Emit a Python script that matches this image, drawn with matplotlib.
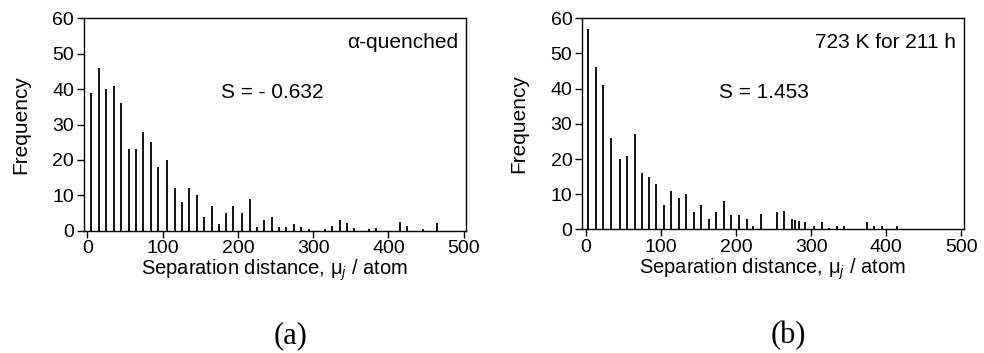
import matplotlib
matplotlib.use("Agg")
import matplotlib.pyplot as plt

plt.rcParams["font.family"] = ["Liberation Sans", "DejaVu Sans"]
plt.rcParams["mathtext.fontset"] = "custom"
plt.rcParams["mathtext.rm"] = "Liberation Sans"
plt.rcParams["mathtext.it"] = "Liberation Sans:italic"

# (a) alpha-quenched
a_dist = [-4, 5, 15, 25, 35, 45, 55, 65, 74, 84, 94, 106, 116, 126, 135, 145, 155,
          165, 175, 184, 194, 206, 216, 225, 235, 245, 254, 264, 274, 284, 294,
          315, 325, 335, 345, 354, 374, 384, 415, 425, 446, 465]
a_freq = [44, 39, 46, 40, 41, 36, 23, 23, 28, 25, 18, 20, 12, 8, 12, 10, 4,
          7, 2, 5, 7, 5, 9, 1, 3, 4, 1, 1, 2, 1, 0.6,
          0.6, 1.3, 3, 2.3, 0.8, 0.6, 0.8, 2.4, 1.2, 0.4, 2.3]

# (b) 723 K for 211 h
b_dist = [3, 13, 23, 33, 45, 55, 65, 75, 84, 94, 104, 114, 124, 134, 144, 153,
          164, 174, 184, 194, 204, 214, 223, 233, 254, 264, 274, 279, 284, 292,
          304, 314, 324, 334, 344, 375, 384, 394, 414]
b_freq = [57, 46, 41, 26, 20, 21, 27, 16, 15, 13, 7, 11, 9, 10, 5, 7,
          3, 5, 8, 4, 4, 3, 1, 4.5, 5, 5.3, 3, 2.8, 2.5, 2,
          1, 2, 0.5, 1, 1, 2, 1, 1, 1]

panels = [
    (a_dist, a_freq, "\u03b1-quenched", "S = - 0.632", "(a)"),
    (b_dist, b_freq, "723 K for 211 h", "S = 1.453", "(b)"),
]
ax_rects = [[0.085, 0.3465, 0.3886, 0.6016], [0.5915, 0.35, 0.3877, 0.5985]]

fig = plt.figure(figsize=(9.84, 3.53), dpi=100)

for rect, (dist, freq, cond, s_txt, tag) in zip(ax_rects, panels):
    ax = fig.add_axes(rect)
    ax.vlines(dist, 0, freq, colors="black", lw=1.3)
    ax.set_xlim(-5, 503)
    ax.set_ylim(0, 60)
    ax.set_xticks([0, 100, 200, 300, 400, 500])
    ax.set_yticks([0, 10, 20, 30, 40, 50, 60])
    ax.tick_params(direction="out", length=5, width=1, labelsize=14, pad=2)
    for sp in ax.spines.values():
        sp.set_linewidth(1.0)
    ax.set_ylabel("Frequency", fontsize=15)
    ax.yaxis.set_label_coords(-0.14, 0.5)
    ax.set_xlabel("Separation distance, \u03bc$_{\\mathit{j}}$ / atom", fontsize=14.5, labelpad=0)
    ax.text(0.98, 0.885, cond, transform=ax.transAxes, ha="right", va="center", fontsize=15)
    ax.text(0.36, 0.65, s_txt, transform=ax.transAxes, ha="left", va="center", fontsize=15)
    x0, w = rect[0], rect[2]
    fig.text(x0 + w * 0.54, 0.05, tag, ha="center", va="center",
             fontsize=22, family=["Liberation Serif", "DejaVu Serif"])

fig.savefig("out.png", dpi=100)
